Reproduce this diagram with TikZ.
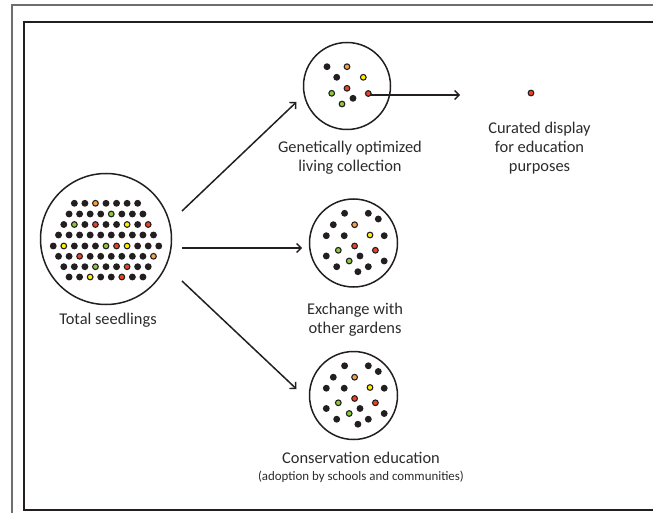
\documentclass[tikz,border=0pt]{standalone}
\usepackage{fontspec}
\setmainfont{Carlito}
\usetikzlibrary{arrows.meta,calc}
\definecolor{dk}{HTML}{231F20}
\definecolor{txt}{HTML}{2B2B2B}
\definecolor{frameG}{HTML}{6E6E6E}
\colorlet{K}{dk}
\definecolor{O}{HTML}{F5A04A}
\definecolor{G}{HTML}{8DC63F}
\definecolor{Y}{HTML}{FFF200}
\definecolor{R}{HTML}{EF4123}
\tikzset{
  ring/.style={circle,draw=dk,line width=1.5pt,inner sep=0pt},
  lbl/.style={text=txt,align=center,font=\fontsize{16.4}{19}\selectfont},
  small/.style={text=txt,align=center,font=\fontsize{12.9}{15}\selectfont},
  arr/.style={draw=dk,line width=1.5pt,-{Straight Barb[length=4.5pt,width=9pt,line width=1.4pt]}},
  seed/.style={fill=#1,draw=dk,line width=1.1pt}
}
\begin{document}
\begin{tikzpicture}[x=1pt,y=-1pt]
\useasboundingbox (0,0) rectangle (653,513);
% frames
\draw[frameG,line width=1.4pt] (12,514) -- (12,5) -- (654,5);
\draw[dk,line width=1.6pt] (654,22) -- (24,22) -- (24,510) -- (654,510);

% circles
\node[ring,minimum size=131pt] (total) at (106,239) {};
\node[ring,minimum size=87pt] (gen) at (347,86) {};
\node[ring,minimum size=88pt] (exch) at (353.5,243) {};
\node[ring,minimum size=88pt] (cons) at (353.5,395.5) {};

% seeds in the big circle
\foreach \yy/\nn/\cols in {
  203.3/7/{K,K,O,K,K,K,K},
  214/8/{K,K,K,K,G,K,K,K},
  224.5/9/{K,G,K,R,K,K,Y,K,R},
  235/10/{K,K,K,K,K,K,K,K,K,K},
  246/11/{K,Y,K,K,K,G,R,Y,K,K,K},
  256.3/10/{K,K,R,K,K,K,K,K,K,O},
  266.7/9/{K,K,K,G,K,K,R,K,K},
  277/8/{K,K,Y,K,K,R,K,K}}{
  \foreach \c [count=\i from 0] in \cols {
    \path[seed=\c] ({106+(\i-(\nn-1)/2)*10.55},\yy) circle[radius=2.85pt];
  }
}

% seeds in the top circle
\foreach \px/\py/\c in {327/66.7/K,347/66.7/O,336.7/77.3/K,363.3/77.3/Y,331.7/93.3/G,347/88.3/R,353/98.3/K,342/104/G}{
  \path[seed=\c] (\px,\py) circle[radius=2.85pt];
}
\coordinate (gsrc) at (368.3,93.5);
\path[seed=R] (gsrc) circle[radius=2.85pt];

% seeds in the two lower circles (same pattern)
\foreach \cc in {exch,cons}{
  \foreach \dx/\dy/\c in {-8.9/-29.7/K,14.8/-29.7/K,24.8/-24/K,-20.2/-18.3/K,1.1/-18.3/O,
      -27.2/-7.3/K,-9.3/-7.3/K,16.5/-8/Y,30.7/-7.3/K,1.1/3/R,-15.2/7.3/G,21.9/7.3/R,
      -27.2/13/K,6.5/13/K,30.7/18/K,-4.3/18/G,-16.8/23.7/K,14.8/23.7/K,4.4/28.7/K}{
    \path[seed=\c] ($(\cc)+(\dx,\dy)$) circle[radius=2.85pt];
  }
}

% curated display dot
\coordinate (cur) at (531,93);
\path[seed=R] (cur) circle[radius=2.85pt];

% arrows
\coordinate (a1s) at (182,211);
\coordinate (a1e) at (296.5,102);
\coordinate (a2s) at (182,248);
\coordinate (a2e) at (302,248);
\coordinate (a3s) at (182,281);
\coordinate (a3e) at (296.5,389);
\coordinate (a4s) at (371,95);
\coordinate (a4e) at (460,95);
\draw[arr] (a1s) -- (a1e);
\draw[arr] (a2s) -- (a2e);
\draw[arr] (a3s) -- (a3e);
\draw[arr] (a4s) -- (a4e);

% labels
\node[lbl] (ltotal) at (108,320) {Total seedlings};
\node[lbl] (lgen) at (350,157.5) {Genetically optimized\\living collection};
\node[lbl] (lcur) at (539.5,148) {Curated display\\for education\\purposes};
\node[lbl] (lexch) at (355,319.5) {Exchange with\\other gardens};
\node[lbl] (lcons) at (361,458) {Conservation education};
\node[small] (lcons2) at (361,477) {(adoption by schools and communities)};
\end{tikzpicture}
\end{document}
